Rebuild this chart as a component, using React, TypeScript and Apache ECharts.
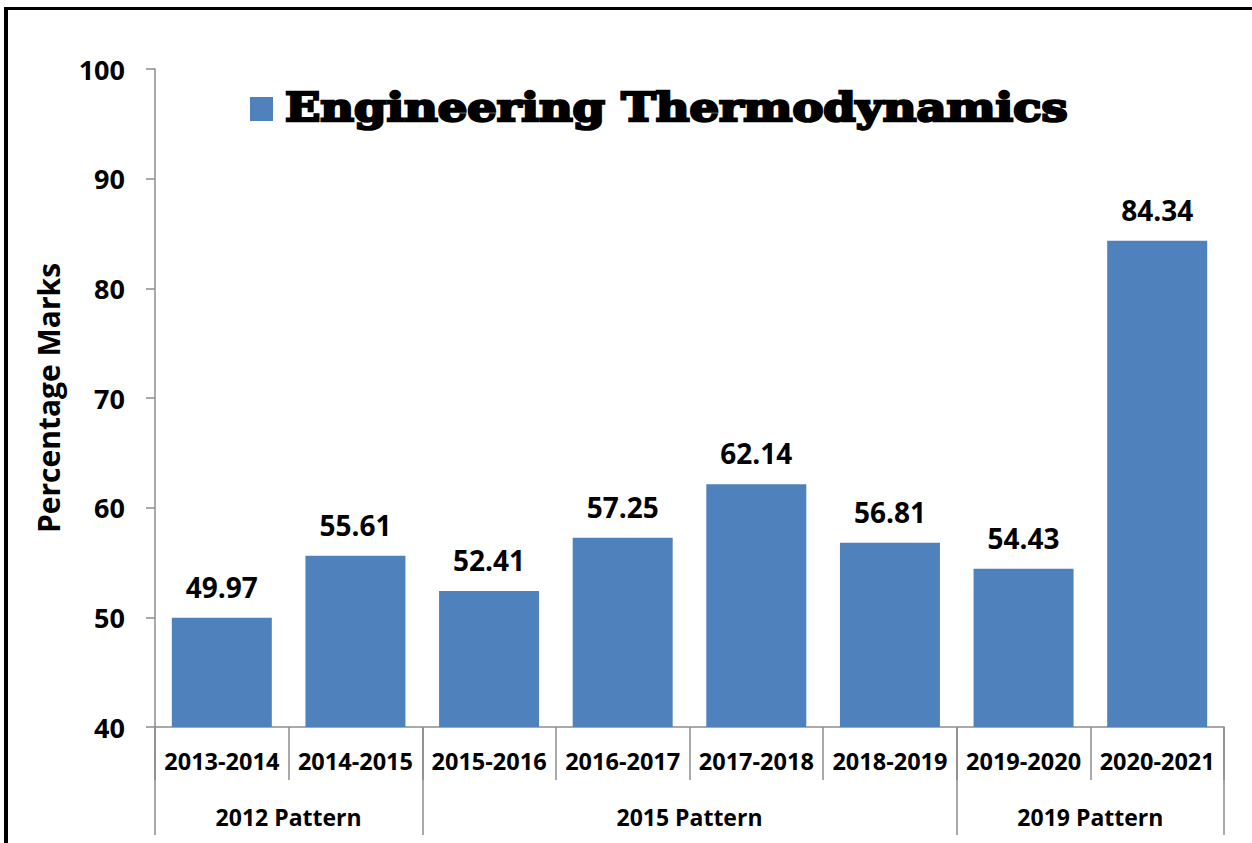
import React, { useEffect, useRef } from "react";
import * as echarts from "echarts";

const categories = [
  "2013-2014",
  "2014-2015",
  "2015-2016",
  "2016-2017",
  "2017-2018",
  "2018-2019",
  "2019-2020",
  "2020-2021",
];
const values = [49.97, 55.61, 52.41, 57.25, 62.14, 56.81, 54.43, 84.34];
const groupNames = ["2012 Pattern", "2015 Pattern", "2019 Pattern"];
const groupCenters = [1, 4, 7];
const groupBounds = [0, 2, 6, 8];
const seriesName = "Engineering Thermodynamics";
const yTicks = { min: 40, max: 100, interval: 10 };

const FONT = "'Open Sans', 'Noto Sans', sans-serif";
const AXIS_GRAY = "#8c8c8c";

export default function App() {
  const ref = useRef<HTMLDivElement>(null);
  useEffect(() => {
    if (!ref.current) return;
    const chart = echarts.init(ref.current, null, { renderer: "svg" });
    chart.setOption({
      animation: false,
      backgroundColor: "#fff",
      grid: { left: 155, right: 28, top: 69, bottom: 116, containLabel: false },
      legend: {
        show: true,
        left: 250,
        top: 97,
        padding: 0,
        icon: "rect",
        itemWidth: 23,
        itemHeight: 24,
        data: [seriesName],
        formatter: () => "",
        textStyle: { fontSize: 1 },
      },
      xAxis: [
        {
          type: "category",
          data: categories,
          position: "bottom",
          axisLine: { show: true, lineStyle: { color: AXIS_GRAY, width: 1.5 } },
          axisTick: { show: true, interval: 0, length: 53, lineStyle: { color: AXIS_GRAY, width: 1.5 } },
          axisLabel: {
            interval: 0,
            margin: 22,
            color: "#000",
            fontFamily: FONT,
            fontWeight: "bold",
            fontSize: 23.5,
          },
        },
        {
          type: "value",
          min: 0,
          max: 8,
          position: "bottom",
          axisLine: { show: false },
          splitLine: { show: false },
          axisTick: {
            show: true,
            customValues: groupBounds,
            length: 108,
            lineStyle: { color: AXIS_GRAY, width: 1.5 },
          },
          axisLabel: {
            show: true,
            customValues: groupCenters,
            margin: 78,
            color: "#000",
            fontFamily: FONT,
            fontWeight: "bold",
            fontSize: 23,
            formatter: (v: number) => {
              const i = groupCenters.indexOf(v);
              return i >= 0 ? groupNames[i] : "";
            },
          },
        },
      ],
      yAxis: {
        type: "value",
        min: yTicks.min,
        max: yTicks.max,
        interval: yTicks.interval,
        name: "Percentage Marks",
        nameLocation: "middle",
        nameGap: 92,
        nameTextStyle: {
          color: "#000",
          fontFamily: FONT,
          fontWeight: "bold",
          fontSize: 30,
        },
        splitLine: { show: false },
        axisLine: { show: true, lineStyle: { color: AXIS_GRAY, width: 1.5 } },
        axisTick: { show: true, length: 9, lineStyle: { color: AXIS_GRAY, width: 1.5 } },
        axisLabel: {
          margin: 30,
          color: "#000",
          fontFamily: FONT,
          fontWeight: "bold",
          fontSize: 27,
        },
      },
      series: [
        {
          name: seriesName,
          type: "bar",
          xAxisIndex: 0,
          data: values,
          barWidth: 100,
          itemStyle: { color: "#4F81BD" },
          label: {
            show: true,
            position: "top",
            distance: 17,
            color: "#000",
            fontFamily: FONT,
            fontWeight: "bold",
            fontSize: 28,
            formatter: (p: any) => p.value.toFixed(2),
          },
        },
      ],
      graphic: [
        {
          type: "line",
          shape: { x1: 6, y1: 7, x2: 6, y2: 843 },
          style: { stroke: "#000", lineWidth: 4 },
        },
        {
          type: "line",
          shape: { x1: 4, y1: 8.5, x2: 1252, y2: 8.5 },
          style: { stroke: "#000", lineWidth: 3 },
        },
        {
          type: "text",
          x: 285,
          y: 87,
          scaleX: 1.16,
          style: {
            text: seriesName,
            fill: "#000",
            stroke: "#000",
            lineWidth: 2.5,
            font: "900 40px 'DejaVu Serif', serif",
            verticalAlign: "top",
          },
        },
      ],
    });
    return () => chart.dispose();
  }, []);
  return (
    <div
      ref={ref}
      style={{ position: "absolute", left: 0, top: 0, width: 1252, height: 843 }}
    />
  );
}
